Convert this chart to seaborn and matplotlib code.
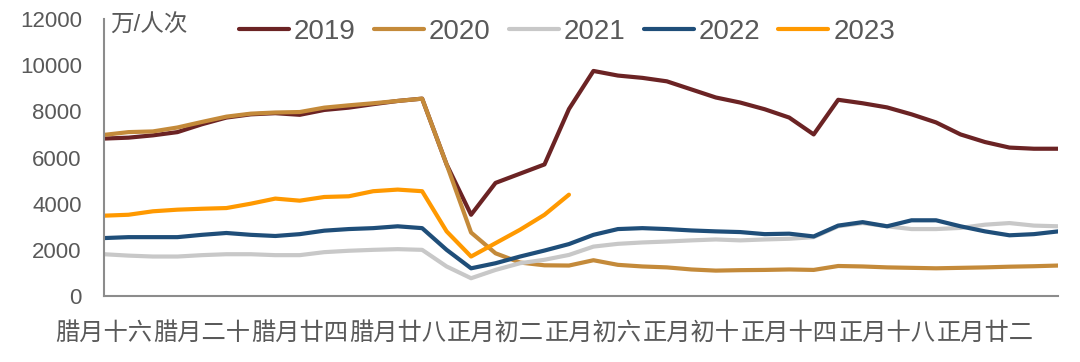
import numpy as np
import pandas as pd
import matplotlib
matplotlib.use('Agg')
import matplotlib.pyplot as plt
import seaborn as sns

sns.set_style('white')
plt.rcParams['font.family'] = ['Liberation Sans', 'Noto Sans CJK SC']

# daily passenger volume (万人次), 40 days from 腊月十六
tick_labels = ['腊月十六', '腊月二十', '腊月廿四', '腊月廿八', '正月初二',
               '正月初六', '正月初十', '正月十四', '正月十八', '正月廿二']
years = ['2019', '2020', '2021', '2022', '2023']
colors = ['#6b2324', '#c48a3a', '#c8c8c8', '#1f4e79', '#ff9900']

y2019 = [6820, 6860, 6960, 7100, 7440, 7730, 7870, 7920, 7850, 8060,
         8160, 8310, 8450, 8550, 5700, 3520, 4900, 5300, 5700, 8100,
         9750, 9550, 9450, 9300, 8950, 8600, 8380, 8090, 7730, 7000,
         8500, 8350, 8170, 7870, 7520, 7000, 6670, 6430, 6380, 6380]
y2020 = [6980, 7100, 7130, 7300, 7540, 7770, 7900, 7950, 7970, 8160,
         8260, 8350, 8450, 8550, 5700, 2750, 1850, 1450, 1330, 1320,
         1550, 1350, 1280, 1240, 1150, 1100, 1120, 1130, 1150, 1130,
         1300, 1280, 1240, 1220, 1200, 1220, 1240, 1270, 1290, 1320]
y2021 = [1810, 1750, 1710, 1710, 1770, 1810, 1810, 1770, 1770, 1900,
         1960, 2000, 2030, 2000, 1280, 770, 1130, 1420, 1570, 1780,
         2140, 2260, 2320, 2360, 2410, 2450, 2410, 2450, 2480, 2550,
         3020, 3160, 3020, 2900, 2900, 2950, 3090, 3160, 3050, 3020]
y2022 = [2510, 2550, 2550, 2550, 2650, 2730, 2650, 2600, 2680, 2830,
         2900, 2940, 3020, 2940, 2000, 1200, 1420, 1710, 1970, 2250,
         2650, 2900, 2940, 2900, 2840, 2800, 2770, 2680, 2700, 2580,
         3050, 3200, 3020, 3280, 3280, 3020, 2800, 2630, 2680, 2800]
y2023 = [3480, 3520, 3670, 3740, 3780, 3810, 4000, 4220, 4130, 4290,
         4320, 4540, 4610, 4540, 2800, 1710, 2290, 2870, 3520, 4390]

series = [y2019, y2020, y2021, y2022, y2023]
frames = []
for yr, vals in zip(years, series):
    frames.append(pd.DataFrame({'day': np.arange(len(vals)), 'value': vals, 'year': yr}))
df = pd.concat(frames, ignore_index=True)

fig, ax = plt.subplots(figsize=(10.8, 3.62), dpi=100)
fig.subplots_adjust(left=0.0963, right=0.98, top=0.9475, bottom=0.1823)

sns.lineplot(data=df, x='day', y='value', hue='year', palette=colors,
             linewidth=3, solid_capstyle='round', ax=ax)

handles, labels = ax.get_legend_handles_labels()
ax.legend_.remove()
for h in handles:
    h.set_linewidth(3)
fig.legend(handles, labels, loc='center', bbox_to_anchor=(0.525, 0.912),
           ncol=5, frameon=False, fontsize=20, handlelength=1.8,
           handletextpad=0.18, columnspacing=0.65, labelcolor='#595959')

grey = '#8c8c8c'
ax.set_xlim(0, 39)
ax.set_ylim(0, 12000)
ax.set_yticks(range(0, 12001, 2000))
ax.set_xticks(range(40))
ax.set_xticklabels([tick_labels[i // 4] if i % 4 == 0 else '' for i in range(40)])
ax.tick_params(axis='x', direction='in', length=5, width=1.2, color=grey,
               labelsize=17.5, labelcolor='#595959', pad=19)
ax.tick_params(axis='y', direction='in', length=5, width=1.2, color=grey,
               labelsize=16, labelcolor='#595959', pad=16)
for s in ['top', 'right']:
    ax.spines[s].set_visible(False)
for s in ['left', 'bottom']:
    ax.spines[s].set_color(grey)
    ax.spines[s].set_linewidth(1.5)
ax.set_xlabel('')
ax.set_ylabel('')
ax.text(0.006, 0.975, '万/人次', transform=ax.transAxes, ha='left', va='center',
        fontsize=17, color='#595959')

plt.savefig('out.png', dpi=100)
